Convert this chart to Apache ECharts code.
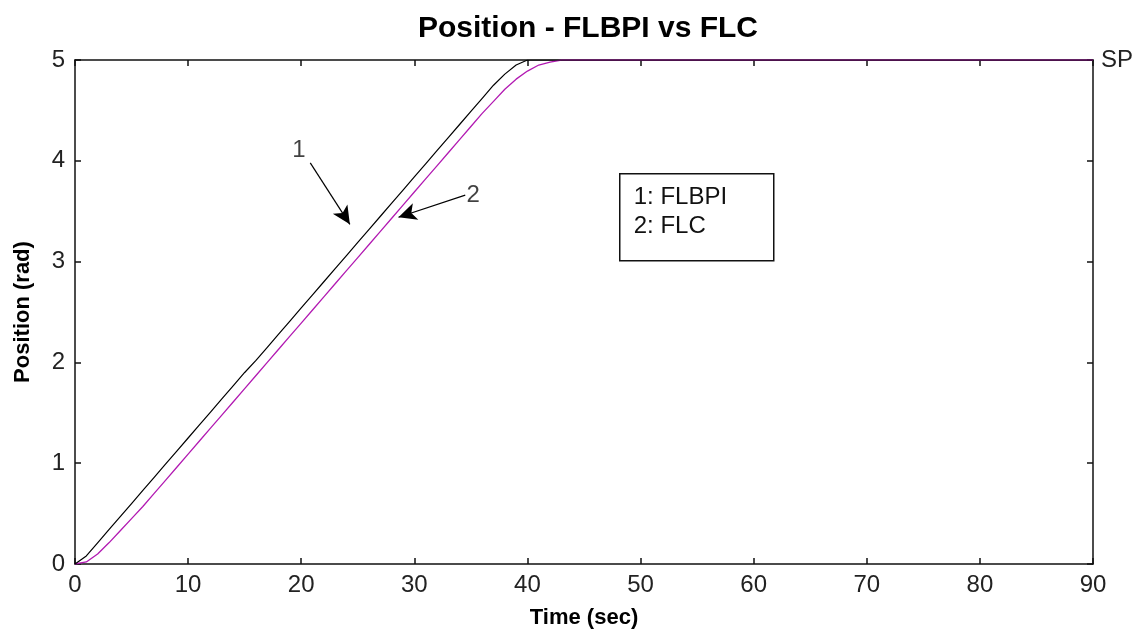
<!DOCTYPE html>
<html>
<head>
<meta charset="utf-8">
<script src="https://cdn.jsdelivr.net/npm/echarts@6/dist/echarts.min.js"></script>
<style>html,body{margin:0;padding:0;background:#fff;}#c{width:1143px;height:634px;}</style>
</head>
<body>
<div id="c"></div>
<script>
var times = [0,1,2,3,4,5,6,7,8,9,10,11,12,13,14,15,16,17,18,19,20,21,22,23,24,25,26,27,28,29,30,31,32,33,34,35,36,37,38,39,40,41,42,43,44,45,50,60,70,80,90];
var flbpi = [0,0.08,0.21,0.34,0.47,0.6,0.73,0.86,0.99,1.12,1.25,1.38,1.51,1.64,1.77,1.9,2.02,2.15,2.28,2.41,2.54,2.67,2.8,2.93,3.06,3.19,3.32,3.45,3.58,3.71,3.84,3.97,4.1,4.23,4.36,4.49,4.62,4.75,4.86,4.95,5.0,5,5,5,5,5,5,5,5,5,5];
var flc = [0,0.02,0.1,0.21,0.33,0.45,0.57,0.7,0.83,0.96,1.09,1.22,1.35,1.48,1.61,1.74,1.87,2.0,2.13,2.26,2.39,2.52,2.65,2.78,2.91,3.04,3.17,3.3,3.43,3.56,3.69,3.82,3.95,4.08,4.21,4.34,4.47,4.59,4.71,4.81,4.89,4.95,4.98,5.0,5,5,5,5,5,5,5];
var xTicks = [0,10,20,30,40,50,60,70,80,90];
var yTicks = [0,1,2,3,4,5];
var legendLines = ['1: FLBPI','2: FLC'];
var arrowLabels = ['1','2'];

function pairs(xs, ys){ return xs.map(function(x,i){return [x, ys[i]];}); }

var chart = echarts.init(document.getElementById('c'), null, {renderer:'canvas'});
var font = 'Liberation Sans, Arial, sans-serif';
var axisLine = {show:true, onZero:false, lineStyle:{color:'#111', width:1.5}};
var tick = {show:true, inside:true, length:6, lineStyle:{color:'#111', width:1.5}};
var opt = {
  animation:false,
  backgroundColor:'#fff',
  title:{text:'Position - FLBPI vs FLC', left:583, textAlign:'center', top:9,
    textStyle:{fontFamily:font, fontSize:30, fontWeight:'bold', color:'#000'}},
  grid:{left:75, right:50, top:60, bottom:68, containLabel:false},
  xAxis:[
    {type:'value', min:0, max:90, interval:10, position:'bottom',
     axisLine:axisLine, axisTick:tick, splitLine:{show:false},
     axisLabel:{fontFamily:font, fontSize:24, color:'#222', margin:9},
     name:'Time (sec)', nameLocation:'middle', nameGap:43,
     nameTextStyle:{fontFamily:font, fontSize:22, fontWeight:'bold', color:'#000'}},
    {type:'value', min:0, max:90, interval:10, position:'top',
     axisLine:axisLine, axisTick:tick, splitLine:{show:false}, axisLabel:{show:false}}
  ],
  yAxis:[
    {type:'value', min:0, max:5, interval:1, position:'left',
     axisLine:axisLine, axisTick:tick, splitLine:{show:false},
     axisLabel:{fontFamily:font, fontSize:24, color:'#222', margin:10},
     name:'Position (rad)', nameLocation:'middle', nameGap:41,
     nameTextStyle:{fontFamily:font, fontSize:22, fontWeight:'bold', color:'#000'}},
    {type:'value', min:0, max:5, interval:1, position:'right',
     axisLine:axisLine, axisTick:tick, splitLine:{show:false},
     axisLabel:{show:true, fontFamily:font, fontSize:24, color:'#222', margin:8,
       formatter:function(v){return v===5?'SP':'';}}}
  ],
  series:[
    {name:'FLC', type:'line', data:pairs(times, flc), showSymbol:false, symbol:'none',
     lineStyle:{color:'#b21ab2', width:1.3}, z:3},
    {name:'FLBPI', type:'line', data:pairs(times, flbpi), showSymbol:false, symbol:'none',
     lineStyle:{color:'#000', width:1.2}, z:4,
     markLine:{silent:true, symbol:['none','arrow'], symbolSize:[13,18],
       lineStyle:{color:'#000', width:1.2, type:'solid'}, label:{show:false},
       data:[
         [{coord:[20.8,3.98]},{coord:[24.3,3.37]}],
         [{coord:[34.5,3.66]},{coord:[28.6,3.44]}]
       ]}},
    {name:'labels', type:'scatter', symbol:'circle', symbolSize:1,
     itemStyle:{color:'rgba(0,0,0,0)'}, silent:true, z:5,
     data:[
       {value:[19.8,4.1], name:arrowLabels[0]},
       {value:[35.2,3.66], name:arrowLabels[1]}
     ],
     label:{show:true, position:'inside', formatter:function(p){return p.name;},
       fontFamily:font, fontSize:24, color:'#111'}}
  ],
  graphic:[
    {type:'group', left:619, top:173, children:[
      {type:'rect', shape:{x:0,y:0,width:154,height:87}, style:{fill:'#fff', stroke:'#111', lineWidth:1.5}},
      {type:'text', x:14, y:12, style:{text:legendLines[0], font:'24px Liberation Sans, Arial, sans-serif', fill:'#111'}},
      {type:'text', x:14, y:41, style:{text:legendLines[1], font:'24px Liberation Sans, Arial, sans-serif', fill:'#111'}}
    ]}
  ]
};
chart.setOption(opt);
</script>
</body>
</html>
